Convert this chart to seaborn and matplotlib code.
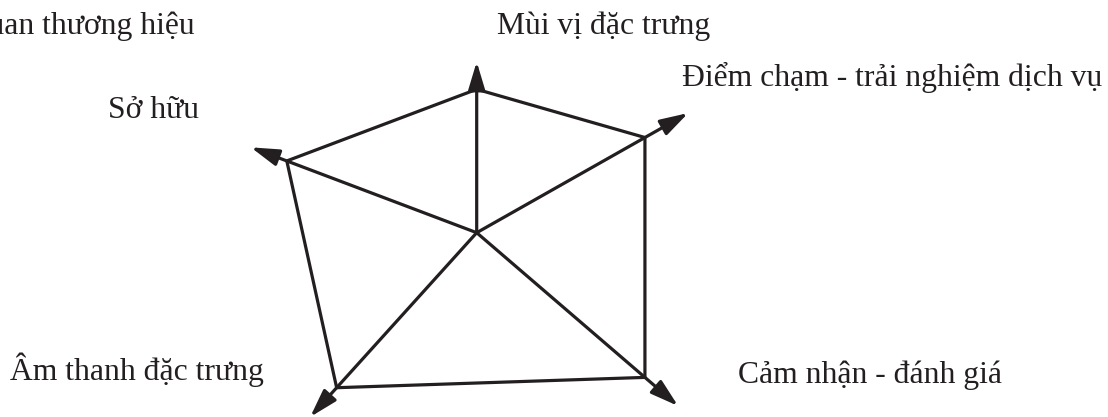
import numpy as np
import pandas as pd
import seaborn as sns
import matplotlib.pyplot as plt

# axes of the diagram (angle in degrees, counter-clockwise from east)
axis_names = ["Mùi vị đặc trưng", "Điểm chạm - trải nghiệm dịch vụ", "Cảm nhận - đánh giá",
              "Âm thanh đặc trưng", "Sở hữu"]
axis_angles = [90.0, 29.5, -40.7, -132.1, 159.3]
# radius of the pentagon vertex on each axis, and of the arrow tip
vertex_r = [143.4, 193.3, 221.9, 208.9, 203.0]
arrow_r = [171.0, 243.0, 265.7, 248.3, 241.5]

# label texts and their anchor points (left edge, baseline)
label_texts = ["Liên quan thương hiệu", "Mùi vị đặc trưng", "Điểm chạm - trải nghiệm dịch vụ",
               "Sở hữu", "Âm thanh đặc trưng", "Cảm nhận - đánh giá"]
label_x = [195, 497, 682, 108, 10, 738]
label_y = [34, 34, 86, 118, 380, 383]
label_ha = ["right", "left", "left", "left", "left", "left"]

cx, cy = 476.7, 232.7
ink = "#231f20"

sns.set_theme(style="white")
plt.rcParams["font.family"] = ["Liberation Serif", "DejaVu Serif"]

fig = plt.figure(figsize=(11.08, 4.17), dpi=100)
ax = fig.add_axes([0, 0, 1, 1])
ax.set_xlim(0, 1108)
ax.set_ylim(417, 0)
ax.axis("off")

rad = np.deg2rad(axis_angles)
vx = cx + np.array(vertex_r) * np.cos(rad)
vy = cy - np.array(vertex_r) * np.sin(rad)
tx = cx + np.array(arrow_r) * np.cos(rad)
ty = cy - np.array(arrow_r) * np.sin(rad)

# pentagon
poly = pd.DataFrame({"x": np.append(vx, vx[0]), "y": np.append(vy, vy[0])})
sns.lineplot(data=poly, x="x", y="y", sort=False, estimator=None, color=ink, lw=2.3, ax=ax)

# arrows from center
for x1, y1 in zip(tx, ty):
    ax.annotate("", xy=(x1, y1), xytext=(cx, cy),
                arrowprops=dict(arrowstyle="-|>,head_length=1.0,head_width=0.3",
                                mutation_scale=17, lw=2.3, color=ink,
                                shrinkA=0, shrinkB=0))

for t, x, y, ha in zip(label_texts, label_x, label_y, label_ha):
    ax.text(x, y, t, ha=ha, va="baseline", fontsize=22.8, color=ink)

ax.set_xlabel("")
ax.set_ylabel("")
fig.savefig("out.png", dpi=100)
